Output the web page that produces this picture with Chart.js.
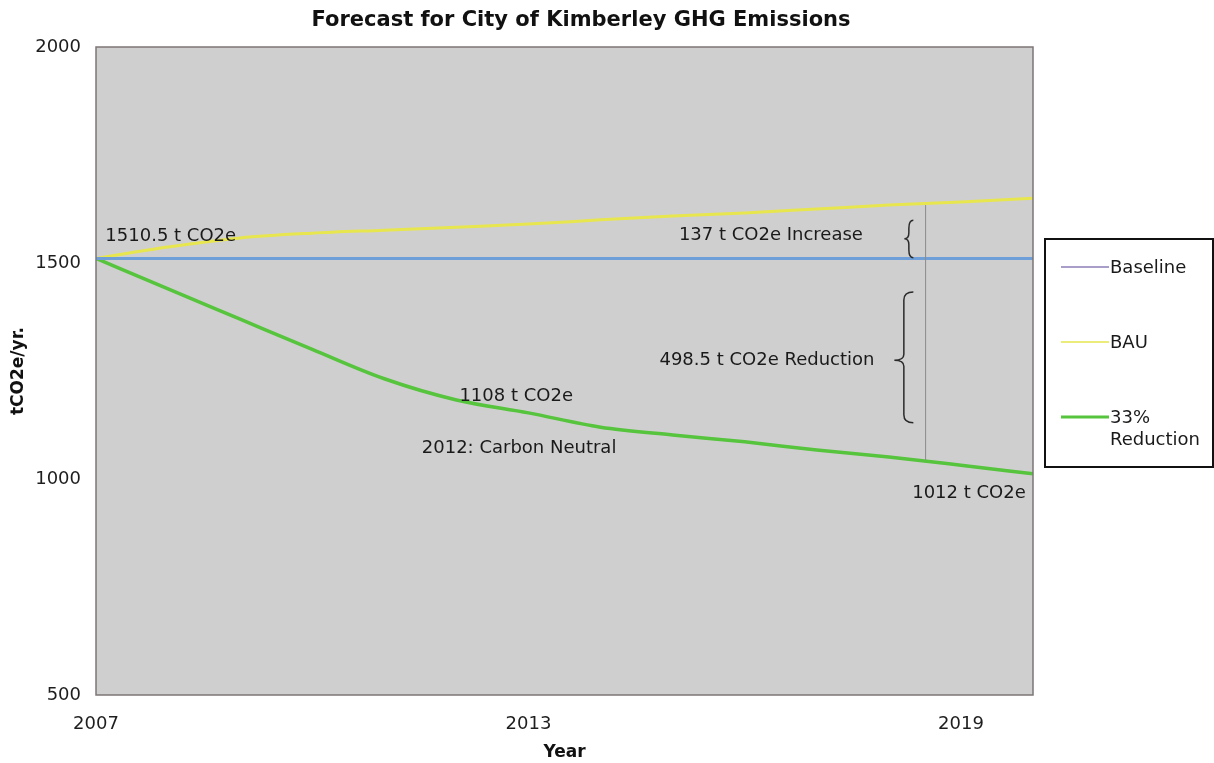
<!DOCTYPE html>
<html>
<head>
<meta charset="utf-8">
<script src="https://cdn.jsdelivr.net/npm/chart.js@4/dist/chart.umd.min.js"></script>
<style>
  html, body { margin: 0; padding: 0; background: #fff; }
  #wrap { width: 1214px; height: 763px; }
</style>
</head>
<body>
<div id="wrap"><canvas id="ghgChart" width="1214" height="763"></canvas></div>
<script>
// values
const years = [2007, 2008, 2009, 2010, 2011, 2012, 2013, 2014, 2015, 2016, 2017, 2018, 2019, 2020];
const baseline = [1510.5, 1510.5, 1510.5, 1510.5, 1510.5, 1510.5, 1510.5, 1510.5, 1510.5, 1510.5, 1510.5, 1510.5, 1510.5, 1510.5];
const bau = [1510.5, 1537, 1558, 1569, 1576, 1583, 1590, 1600, 1609, 1616, 1625, 1634, 1641, 1650];
const reduction = [1510.5, 1440, 1370, 1300, 1232, 1183, 1153, 1120, 1102, 1086, 1067, 1051, 1032, 1012];
const xTickYears = [2007, 2013, 2019];
const yTickValues = [500, 1000, 1500, 2000];

const seriesNames = ["Baseline", "BAU", "33%\nReduction"];
const lineColors = ["#6f9fd8", "#e8e64e", "#56c43c"];
const legendColors = ["#a99ec9", "#ecec7a", "#56c43c"];

// callouts: [text, year, value, align]
const callouts = [
  ["1510.5 t CO2e", 2007.13, 1562, "left"],
  ["137 t CO2e Increase", 2017.64, 1565, "right"],
  ["498.5 t CO2e Reduction", 2017.8, 1275, "right"],
  ["1108 t CO2e", 2012.83, 1192, "center"],
  ["2012: Carbon Neutral", 2012.87, 1072, "center"],
  ["1012 t CO2e", 2019.9, 966, "right"]
];

function points(vals) {
  return years.map((y, i) => ({ x: y, y: vals[i] }));
}

function brace(ctx, xRight, xTip, yTop, yBot, yMid) {
  const xm = (xRight + xTip) / 2;
  ctx.beginPath();
  ctx.moveTo(xRight, yTop);
  ctx.quadraticCurveTo(xm, yTop, xm, yTop + 8);
  ctx.lineTo(xm, yMid - 6);
  ctx.quadraticCurveTo(xm, yMid, xTip, yMid);
  ctx.quadraticCurveTo(xm, yMid, xm, yMid + 6);
  ctx.lineTo(xm, yBot - 8);
  ctx.quadraticCurveTo(xm, yBot, xRight, yBot);
  ctx.stroke();
}

const decorPlugin = {
  id: "decor",
  beforeDatasetsDraw(chart) {
    const { ctx, chartArea: a } = chart;
    ctx.save();
    ctx.fillStyle = "#cfcfcf";
    ctx.fillRect(a.left, a.top, a.right - a.left, a.bottom - a.top);
    ctx.restore();
  },
  afterDatasetsDraw(chart) {
    const { ctx, chartArea: a, scales } = chart;
    const sx = scales.x, sy = scales.y;
    ctx.save();

    // plot border
    ctx.strokeStyle = "#7d7676";
    ctx.lineWidth = 1.5;
    ctx.strokeRect(a.left, a.top, a.right - a.left, a.bottom - a.top);

    // measuring line
    ctx.strokeStyle = "#8a8a8a";
    ctx.lineWidth = 1;
    const vx = sx.getPixelForValue(2018.51);
    ctx.beginPath();
    ctx.moveTo(vx, sy.getPixelForValue(1634));
    ctx.lineTo(vx, sy.getPixelForValue(1044));
    ctx.stroke();

    // braces
    ctx.strokeStyle = "#2a2a2a";
    ctx.lineWidth = 1.5;
    const bx = sx.getPixelForValue(2018.34);
    brace(ctx, bx, bx - 9, sy.getPixelForValue(1599), sy.getPixelForValue(1512), sy.getPixelForValue(1556));
    brace(ctx, bx, bx - 19, sy.getPixelForValue(1433), sy.getPixelForValue(1130), sy.getPixelForValue(1275));

    // callout texts
    ctx.fillStyle = "#1a1a1a";
    ctx.font = "18px 'DejaVu Sans'";
    ctx.textBaseline = "middle";
    callouts.forEach(c => {
      ctx.textAlign = c[3];
      ctx.fillText(c[0], sx.getPixelForValue(c[1]), sy.getPixelForValue(c[2]));
    });
    ctx.restore();
  },
  afterDraw(chart) {
    const { ctx } = chart;
    ctx.save();
    // title
    ctx.fillStyle = "#111";
    ctx.font = "bold 21px 'DejaVu Sans'";
    ctx.textAlign = "center";
    ctx.textBaseline = "middle";
    ctx.fillText("Forecast for City of Kimberley GHG Emissions", 581, 21);

    // legend box
    ctx.strokeStyle = "#111";
    ctx.lineWidth = 2;
    ctx.strokeRect(1045, 239, 168, 228);
    const rows = [267, 342, 417];
    ctx.font = "18px 'DejaVu Sans'";
    ctx.textAlign = "left";
    ctx.fillStyle = "#1a1a1a";
    seriesNames.forEach((name, i) => {
      ctx.strokeStyle = legendColors[i];
      ctx.lineWidth = i === 2 ? 3 : 2;
      ctx.beginPath();
      ctx.moveTo(1061, rows[i]);
      ctx.lineTo(1109, rows[i]);
      ctx.stroke();
      name.split("\n").forEach((part, j) => {
        ctx.fillText(part, 1110, rows[i] + 1 + j * 22);
      });
    });
    ctx.restore();
  }
};

new Chart("ghgChart", {
  type: "line",
  data: {
    datasets: [
      { label: "Baseline", data: points(baseline), borderColor: lineColors[0], borderWidth: 3 },
      { label: "BAU", data: points(bau), borderColor: lineColors[1], borderWidth: 3 },
      { label: "33% Reduction", data: points(reduction), borderColor: lineColors[2], borderWidth: 3.5 }
    ]
  },
  options: {
    responsive: false,
    animation: false,
    events: [],
    elements: {
      point: { radius: 0 },
      line: { cubicInterpolationMode: "monotone", fill: false }
    },
    layout: { padding: { top: 47, right: 181, left: 0, bottom: 0 } },
    plugins: {
      legend: { display: false },
      title: { display: false },
      tooltip: { enabled: false }
    },
    scales: {
      x: {
        type: "linear",
        min: 2007,
        max: 2020,
        grid: { display: false, drawTicks: false },
        border: { display: false },
        afterBuildTicks: s => { s.ticks = xTickYears.map(v => ({ value: v })); },
        afterFit: s => { s.height = 68; },
        ticks: {
          padding: 19,
          color: "#1e1e1e",
          font: { family: "DejaVu Sans", size: 18 },
          callback: v => String(v)
        },
        title: {
          display: true,
          text: "Year",
          color: "#111",
          font: { family: "DejaVu Sans", size: 17, weight: "bold" },
          padding: { top: 0, bottom: 0 }
        }
      },
      y: {
        min: 500,
        max: 2000,
        grid: { display: false, drawTicks: false },
        border: { display: false },
        afterBuildTicks: s => { s.ticks = yTickValues.map(v => ({ value: v })); },
        afterFit: s => { s.width = 96; },
        ticks: {
          padding: 15,
          color: "#1e1e1e",
          font: { family: "DejaVu Sans", size: 18 },
          callback: v => String(v)
        },
        title: {
          display: true,
          text: "tCO2e/yr.",
          color: "#111",
          font: { family: "DejaVu Sans", size: 17, weight: "bold" },
          padding: { top: 8, bottom: 0 }
        }
      }
    }
  },
  plugins: [decorPlugin]
});
</script>
</body>
</html>
